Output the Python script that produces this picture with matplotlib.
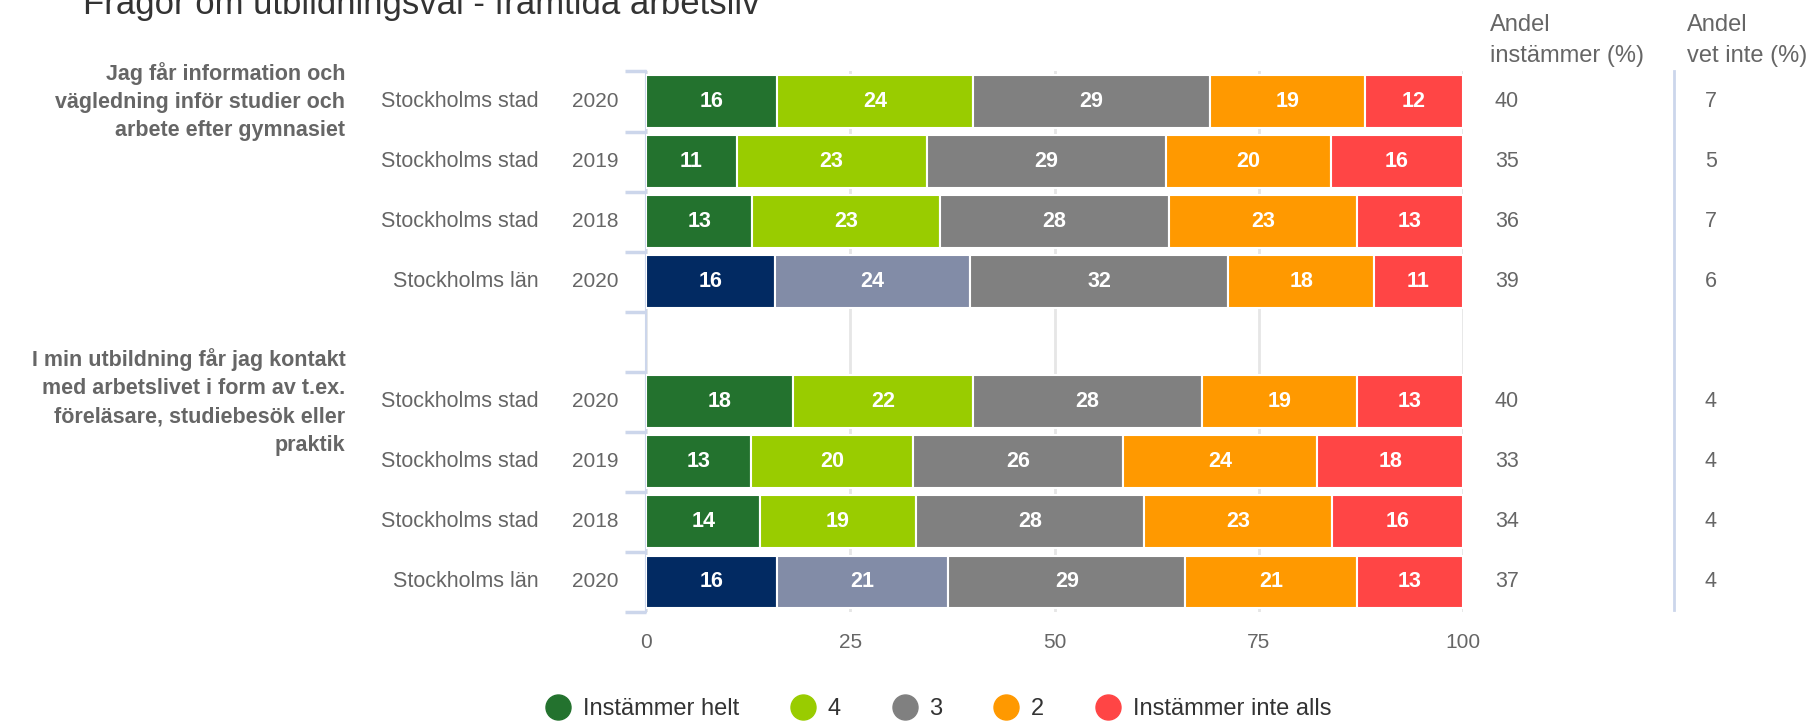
import matplotlib.pyplot as plt
import numpy as np
from matplotlib.lines import Line2D
from matplotlib.transforms import blended_transform_factory

plt.rcParams["font.family"] = ["Liberation Sans", "DejaVu Sans"]

title = "Frågor om utbildningsval - framtida arbetsliv"

questions = [
    "Jag får information och\nvägledning inför studier och\narbete efter gymnasiet",
    "I min utbildning får jag kontakt\nmed arbetslivet i form av t.ex.\nföreläsare, studiebesök eller\npraktik",
]
units = ["Stockholms stad", "Stockholms stad", "Stockholms stad", "Stockholms län"]
years = ["2020", "2019", "2018", "2020"]

categories = ["Instämmer helt", "4", "3", "2", "Instämmer inte alls"]

# rows per question: [helt, 4, 3, 2, inte alls]
values_q1 = [
    [16, 24, 29, 19, 12],
    [11, 23, 29, 20, 16],
    [13, 23, 28, 23, 13],
    [16, 24, 32, 18, 11],
]
values_q2 = [
    [18, 22, 28, 19, 13],
    [13, 20, 26, 24, 18],
    [14, 19, 28, 23, 16],
    [16, 21, 29, 21, 13],
]
andel_instammer_q1 = [40, 35, 36, 39]
andel_instammer_q2 = [40, 33, 34, 37]
andel_vet_inte_q1 = [7, 5, 7, 6]
andel_vet_inte_q2 = [4, 4, 4, 4]

stad_colors = ["#23722e", "#99cc00", "#808080", "#ff9900", "#ff4545"]
lan_colors = ["#022a62", "#828ca7", "#808080", "#ff9900", "#ff4545"]
axis_blue = "#ccd6eb"
text_grey = "#666666"

fig = plt.figure(figsize=(18.10, 7.21), dpi=100)
ax = fig.add_axes([0.3569, 0.1512, 0.4514, 0.7497])

rows = values_q1 + [None] + values_q2
andel = andel_instammer_q1 + [None] + andel_instammer_q2
vet = andel_vet_inte_q1 + [None] + andel_vet_inte_q2
row_units = units + [None] + units
row_years = years + [None] + years

trans = blended_transform_factory(ax.transAxes, ax.transData)

for i, vals in enumerate(rows):
    if vals is None:
        continue
    vals = np.array(vals, dtype=float)
    widths = vals / vals.sum() * 100
    colors = lan_colors if "län" in row_units[i] else stad_colors
    left = 0.0
    for j, (w, v) in enumerate(zip(widths, vals)):
        ax.barh(i, w, left=left, height=0.88, color=colors[j],
                edgecolor="white", linewidth=1.5, zorder=3)
        ax.text(left + w / 2, i, f"{int(v)}", ha="center", va="center",
                color="white", fontsize=15.5, fontweight="bold", zorder=4)
        left += w
    ax.text(-0.034, i, row_years[i], transform=trans, ha="right", va="center",
            fontsize=15, color=text_grey)
    ax.text(-0.131, i, row_units[i], transform=trans, ha="right", va="center",
            fontsize=15.5, color=text_grey)
    ax.text(1.039, i, str(andel[i]), transform=trans, ha="left", va="center",
            fontsize=15.5, color=text_grey)
    ax.text(1.296, i, str(vet[i]), transform=trans, ha="left", va="center",
            fontsize=15.5, color=text_grey)

# group labels
for q, yrow in zip(questions, [0, 5]):
    ax.text(-0.368, yrow, q, transform=trans, ha="right", va="center",
            fontsize=15.5, fontweight="bold", color=text_grey, linespacing=1.45)

# right column headers
ax.text(1.033, 1.0855, "Andel", transform=ax.transAxes, ha="left", va="center",
        fontsize=17, color=text_grey)
ax.text(1.033, 1.028, "instämmer (%)", transform=ax.transAxes, ha="left",
        va="center", fontsize=17, color=text_grey)
ax.text(1.274, 1.0855, "Andel", transform=ax.transAxes, ha="left", va="center",
        fontsize=17, color=text_grey)
ax.text(1.274, 1.028, "vet inte (%)", transform=ax.transAxes, ha="left",
        va="center", fontsize=17, color=text_grey)
ax.plot([1.258, 1.258], [0.003, 1.0], transform=ax.transAxes, color=axis_blue,
        linewidth=2, clip_on=False)

ax.set_xlim(0, 100)
ax.set_ylim(8.5, -0.5)
ax.set_xticks([0, 25, 50, 75, 100])
ax.tick_params(axis="x", length=0, pad=15, labelsize=15, labelcolor=text_grey)
ax.set_yticks(np.arange(-0.5, 9.0, 1.0))
ax.set_yticklabels([])
ax.tick_params(axis="y", length=15, width=2.5, color=axis_blue, direction="out")
ax.grid(axis="x", color="#e6e6e6", linewidth=2, zorder=0)
ax.set_axisbelow(True)
for side in ["top", "right", "bottom"]:
    ax.spines[side].set_visible(False)
ax.spines["left"].set_color(axis_blue)
ax.spines["left"].set_linewidth(1.5)

fig.text(83 / 1810, 1 - 14 / 721, title, ha="left", va="baseline",
         fontsize=25, color="#333333")

handles = [Line2D([], [], linestyle="none", marker="o", markersize=18,
                  markerfacecolor=c, markeredgecolor=c) for c in stad_colors]
fig.legend(handles, categories, loc="center", bbox_to_anchor=(0.518, 1 - 709 / 721),
           ncol=5, frameon=False, fontsize=17, labelcolor="#333333",
           handletextpad=0.45, columnspacing=2.1, handlelength=1.2)

fig.savefig("out.png", dpi=100)
